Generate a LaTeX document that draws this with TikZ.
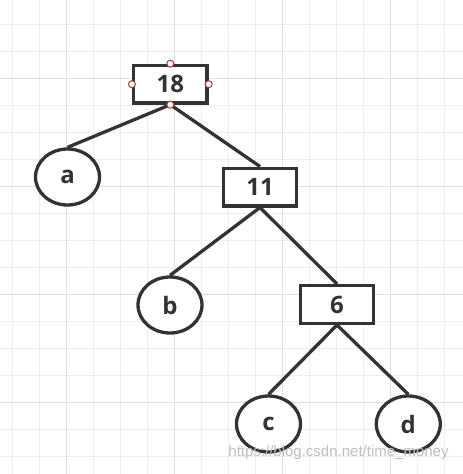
\documentclass[tikz,border=0pt]{standalone}
\usepackage{fontspec}
\setmainfont{Open Sans}
\newfontfamily\wmfont{Liberation Sans}
\usepackage{tikz}
\usetikzlibrary{positioning,shapes.geometric}
\definecolor{inkgray}{HTML}{333333}
\definecolor{gridminor}{HTML}{EEEEEE}
\definecolor{gridmajor}{HTML}{E0E0E0}
\definecolor{handlered}{HTML}{A83A3A}

\begin{document}
\begin{tikzpicture}[x=1pt, y=-1pt,
    every node/.style={font=\fontsize{24}{24}\selectfont\bfseries, text=inkgray},
    numbox/.style={draw=inkgray, line width=3.3pt, fill=white, rectangle,
      minimum width=73.5pt, minimum height=37.7pt, inner sep=0pt},
    leaf/.style={draw=inkgray, line width=3.3pt, fill=white, ellipse,
      minimum width=64pt, minimum height=56pt, inner sep=0pt},
    edge/.style={draw=inkgray, line width=3.3pt},
    handle/.style={draw=handlered, fill=white, line width=1pt}]
  \useasboundingbox (0,0) rectangle (463,474);
  \fill[white] (0,0) rectangle (463,474);
  % grid paper
  \foreach \i in {0,...,16} {
    \draw[gridminor, line width=1pt] (12.7+27*\i,0) -- (12.7+27*\i,474);
  }
  \foreach \j in {-1,...,17} {
    \draw[gridminor, line width=1pt] (0,24.3+27*\j) -- (463,24.3+27*\j);
  }
  \foreach \i in {0,...,3} {
    \draw[gridmajor, line width=1pt] (66.7+107.9*\i,0) -- (66.7+107.9*\i,474);
    \draw[gridmajor, line width=1pt] (0,78.3+108*\i) -- (463,78.3+108*\i);
  }
  % tree nodes
  \node[numbox] (n18) at (170.3,84.2) {18};
  \node[leaf] (a) at (67.5,177) {a};
  \node[numbox] (n11) at (260,187) {11};
  \node[leaf] (b) at (170,305) {b};
  \node[numbox] (n6) at (337,304.5) {6};
  \node[leaf] (c) at (268.5,424) {c};
  \node[leaf] (d) at (408.3,424) {d};
  % branches
  \draw[edge] (n18.south) -- (a.north);
  \draw[edge] (n18.south) -- (n11.north);
  \draw[edge] (n11.south) -- (b.north);
  \draw[edge] (n11.south) -- (n6.north);
  \draw[edge] (n6.south) -- (c.north);
  \draw[edge] (n6.south) -- (d.north);
  % selection handles
  \foreach \s in {north,south,east,west} {
    \draw[handle] (n18.\s) circle[radius=3.5pt];
  }
  % watermark
  \node[font=\wmfont\fontsize{15}{15}\selectfont, text=black!25] (wm) at (338.5,452.5) {https://blog.csdn.net/time\_money};
\end{tikzpicture}
\end{document}
